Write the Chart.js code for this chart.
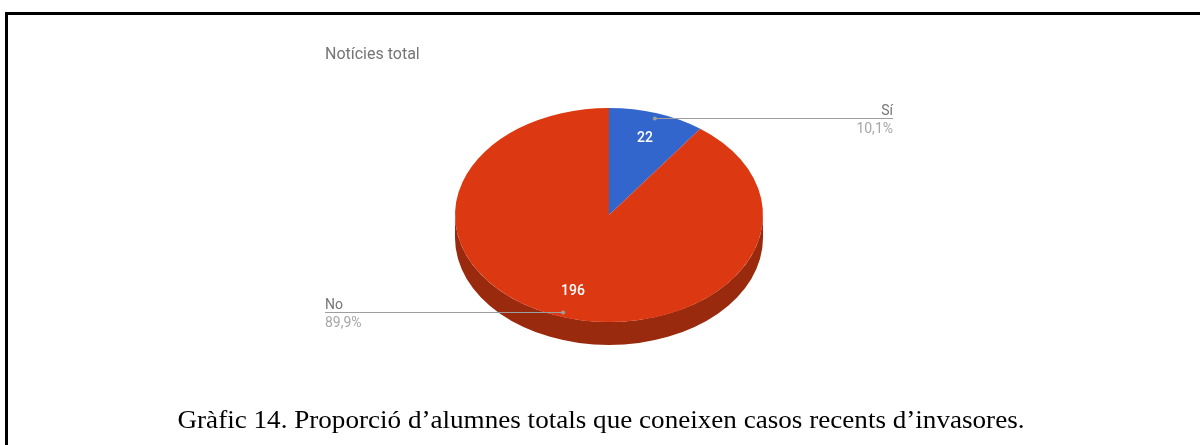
<!DOCTYPE html>
<html>
<head>
<meta charset="utf-8">
<script src="https://cdn.jsdelivr.net/npm/chart.js@4"></script>
<style>
    html, body { margin: 0; padding: 0; background: #fff; }
    #wrap { position: relative; width: 1200px; height: 445px; overflow: hidden; }
    #pieChart { position: absolute; left: 0; top: 0; }
    .vora-dalt { position: absolute; left: 5px; top: 12px; width: 1195px; height: 3px; background: #000; }
    .vora-esq { position: absolute; left: 5px; top: 12px; width: 3px; height: 433px; background: #000; }
</style>
</head>
<body>
<div id="wrap">
    <canvas id="pieChart" width="1200" height="445"></canvas>
    <div class="vora-dalt"></div>
    <div class="vora-esq"></div>
</div>
<script>
// Dades del gràfic
const etiquetes = ['Sí', 'No'];
const valors = [22, 196];
const colors = ['#3366cc', '#dc3912'];
const colorsCostat = ['#244a96', '#9a2a0e'];
const titol = 'Notícies total';
const peu = 'Gràfic 14. Proporció d’alumnes totals que coneixen casos recents d’invasores.';

// Aspecte 3D
const aplanat = 107 / 154;
const gruix = 23;

const pie3d = {
    id: 'pie3d',
    beforeDatasetsDraw(chart) {
        const ctx = chart.ctx;
        const arcs = chart.getDatasetMeta(0).data;
        const cx = arcs[0].x, cy = arcs[0].y, r = arcs[0].outerRadius;
        const ry = r * aplanat;

        // costat del pastís (només la part frontal és visible)
        ctx.save();
        arcs.forEach((arc, i) => {
            for (let k = -1; k <= 1; k++) {
                const lo = Math.max(arc.startAngle, k * 2 * Math.PI);
                const hi = Math.min(arc.endAngle, Math.PI + k * 2 * Math.PI);
                if (hi <= lo) continue;
                ctx.beginPath();
                ctx.ellipse(cx, cy, r, ry, 0, lo, hi);
                ctx.ellipse(cx, cy + gruix, r, ry, 0, hi, lo, true);
                ctx.closePath();
                ctx.fillStyle = colorsCostat[i];
                ctx.fill();
            }
        });
        ctx.restore();

        // aplanar la cara superior
        ctx.save();
        ctx.translate(cx, cy);
        ctx.scale(1, aplanat);
        ctx.translate(-cx, -cy);
    },
    afterDatasetsDraw(chart) {
        const ctx = chart.ctx;
        ctx.restore();

        const arcs = chart.getDatasetMeta(0).data;
        const cx = arcs[0].x, cy = arcs[0].y, r = arcs[0].outerRadius;
        const total = valors.reduce((a, b) => a + b, 0);

        arcs.forEach((arc, i) => {
            const mig = (arc.startAngle + arc.endAngle) / 2;
            const cos = Math.cos(mig), sin = Math.sin(mig);

            // valor dins la porció
            ctx.save();
            ctx.fillStyle = '#ffffff';
            ctx.font = '500 14px Roboto';
            ctx.textAlign = 'center';
            ctx.textBaseline = 'middle';
            ctx.fillText(String(valors[i]), cx + cos * r * 0.75, cy + sin * r * 0.75 * aplanat);

            // línia guia i etiqueta
            const px = cx + cos * r * 0.955;
            const py = Math.round(cy + sin * r * 0.955 * aplanat) + 0.5;
            const dreta = cos >= 0;
            const lx = dreta ? cx + r + 130 : cx - r - 130;

            ctx.strokeStyle = '#9e9e9e';
            ctx.lineWidth = 1;
            ctx.beginPath();
            ctx.moveTo(px, py);
            ctx.lineTo(lx, py);
            ctx.stroke();

            ctx.fillStyle = '#9e9e9e';
            ctx.beginPath();
            ctx.arc(px, py, 2, 0, 2 * Math.PI);
            ctx.fill();

            const pct = (valors[i] / total * 100).toFixed(1).replace('.', ',') + '%';
            ctx.textAlign = dreta ? 'right' : 'left';
            ctx.textBaseline = 'alphabetic';
            ctx.font = '14px Roboto';
            ctx.fillStyle = '#757575';
            ctx.fillText(etiquetes[i], lx, py - 4);
            ctx.fillStyle = '#a6a6a6';
            ctx.fillText(pct, lx, py + 14);
            ctx.restore();
        });
    },
    afterDraw(chart) {
        const ctx = chart.ctx;
        ctx.save();
        // títol
        ctx.font = '16px Roboto';
        ctx.fillStyle = '#757575';
        ctx.textAlign = 'left';
        ctx.textBaseline = 'alphabetic';
        ctx.fillText(titol, 325, 59);

        // peu de figura
        ctx.font = '25px "Liberation Serif"';
        ctx.fillStyle = '#000';
        const amplada = ctx.measureText(peu).width;
        const escala = 847 / amplada;
        ctx.translate(601, 428);
        ctx.scale(escala, 1);
        ctx.textAlign = 'center';
        ctx.fillText(peu, 0, 0);
        ctx.restore();
    }
};

document.addEventListener('DOMContentLoaded', function () {
    const ctx = document.getElementById('pieChart').getContext('2d');
    new Chart(ctx, {
        type: 'pie',
        data: {
            labels: etiquetes,
            datasets: [{
                data: valors,
                backgroundColor: colors,
                borderWidth: 0
            }]
        },
        options: {
            responsive: false,
            animation: false,
            devicePixelRatio: 1,
            events: [],
            layout: {
                padding: { left: 455, right: 437, top: 61, bottom: 76 }
            },
            plugins: {
                legend: { display: false },
                tooltip: { enabled: false },
                title: { display: false }
            }
        },
        plugins: [pie3d]
    });
});
</script>
</body>
</html>
